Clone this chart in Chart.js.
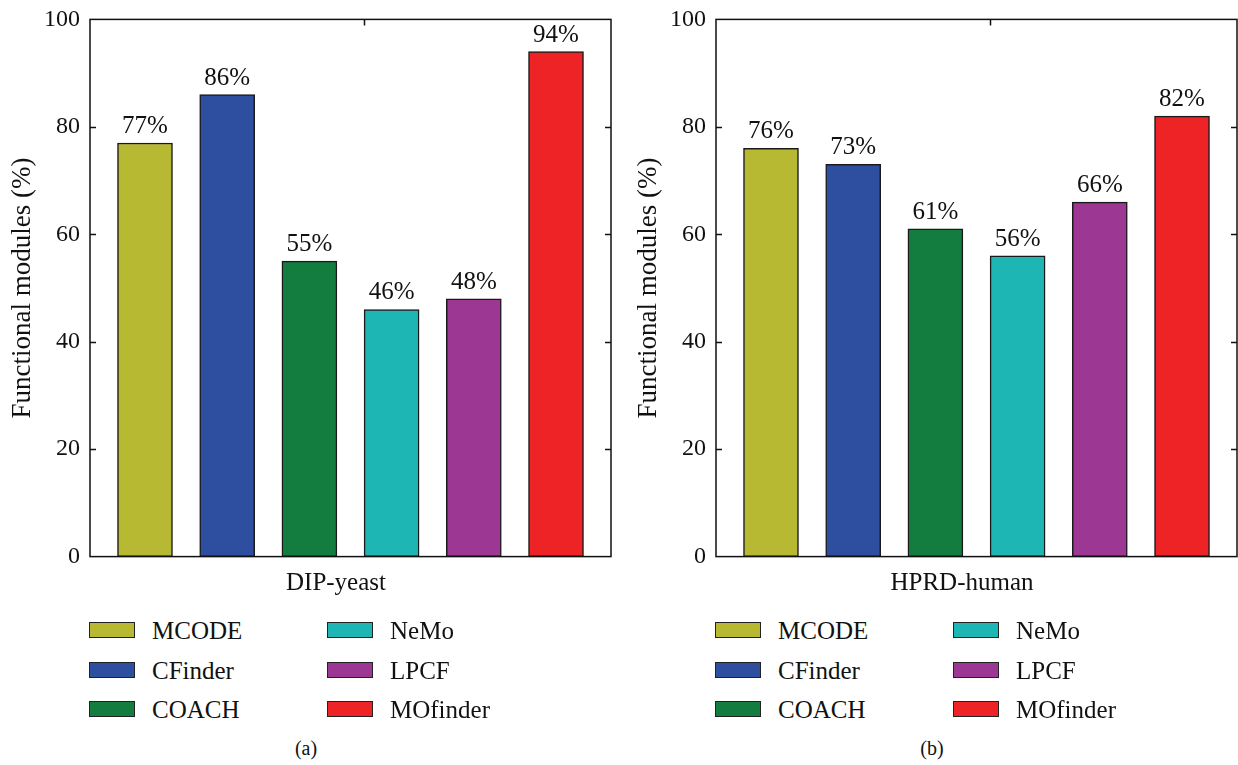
<!DOCTYPE html>
<html>
<head>
<meta charset="utf-8">
<script src="https://cdn.jsdelivr.net/npm/chart.js@4/dist/chart.umd.min.js"></script>
<style>
  html, body { margin: 0; padding: 0; background: #fff; }
  body { width: 1238px; height: 765px; position: relative; overflow: hidden;
         font-family: "Liberation Serif", "DejaVu Serif", serif; color: #111; }
  .panel { position: absolute; top: -5px; }
  .txt { position: absolute; white-space: nowrap; transform: translate(-50%, -50%); }
  .leg-box { position: absolute; width: 44px; height: 14px; border: 1.5px solid #222; }
  .leg-txt { position: absolute; font-size: 25px; line-height: 1; transform: translateY(-50%); white-space: nowrap; }
</style>
</head>
<body>
<div id="pa" class="panel" style="left:0px"><canvas id="ca" width="620" height="586"></canvas></div>
<div id="pb" class="panel" style="left:626px"><canvas id="cb" width="612" height="586"></canvas></div>
<script>
// Methods compared and their bar colours
const categories = ['MCODE', 'CFinder', 'COACH', 'NeMo', 'LPCF', 'MOfinder'];
const barColors = ['#b8b933', '#2e4fa0', '#137c3f', '#1db6b4', '#9c3893', '#ee2325'];

// Share of functional modules (%) per network
const dipYeast = [77, 86, 55, 46, 48, 94];
const hprdHuman = [76, 73, 61, 56, 66, 82];

// Axis ticks
const yTickValues = [0, 20, 40, 60, 80, 100];
const innerTickValues = [20, 40, 60, 80];

const panels = [
  { canvas: 'ca', left: 0, values: dipYeast, network: 'DIP-yeast', tag: '(a)', padRight: 9 },
  { canvas: 'cb', left: 626, values: hprdHuman, network: 'HPRD-human', tag: '(b)', padRight: 1 }
];

const FONT = '"Liberation Serif", "DejaVu Serif", serif';

// Box frame, inward ticks and value labels
const framePlugin = {
  id: 'frame',
  afterDatasetsDraw(chart) {
    const { ctx } = chart;
    const vals = chart.data.datasets[0].data;
    ctx.save();
    ctx.fillStyle = '#111';
    ctx.font = '25px ' + FONT;
    ctx.textAlign = 'center';
    ctx.textBaseline = 'alphabetic';
    chart.getDatasetMeta(0).data.forEach((bar, i) => {
      ctx.fillText(vals[i].y + '%', bar.x, bar.y - 10);
    });
    ctx.restore();
  },
  afterDraw(chart) {
    const { ctx, chartArea: a, scales: { x, y } } = chart;
    ctx.save();
    ctx.strokeStyle = '#111';
    ctx.lineWidth = 1.5;
    ctx.strokeRect(a.left, a.top, a.right - a.left, a.bottom - a.top);
    ctx.beginPath();
    innerTickValues.forEach(v => {
      const py = Math.round(y.getPixelForValue(v)) + 0.5;
      ctx.moveTo(a.left, py); ctx.lineTo(a.left + 6, py);
      ctx.moveTo(a.right, py); ctx.lineTo(a.right - 6, py);
    });
    const tx = Math.round(x.getPixelForValue(3.66)) + 0.5;
    ctx.moveTo(tx, a.top); ctx.lineTo(tx, a.top + 6);
    ctx.stroke();
    ctx.restore();
  }
};

panels.forEach(p => {
  const points = p.values.map((v, i) => ({ x: i + 1, y: v }));
  new Chart(document.getElementById(p.canvas), {
    type: 'bar',
    data: {
      datasets: [{
        data: points,
        backgroundColor: barColors,
        borderColor: '#1a1a1a',
        borderWidth: 1.5,
        borderSkipped: false,
        barThickness: 55
      }]
    },
    plugins: [framePlugin],
    options: {
      responsive: false,
      animation: false,
      events: [],
      layout: { padding: { top: 14, right: p.padRight, bottom: 4, left: 0 } },
      plugins: { legend: { display: false }, tooltip: { enabled: false } },
      scales: {
        x: {
          type: 'linear',
          display: false,
          offset: false,
          min: 0.331,
          max: 6.669
        },
        y: {
          min: 0,
          max: 100,
          afterBuildTicks: s => { s.ticks = yTickValues.map(v => ({ value: v })); },
          afterFit: s => { s.width = 90; },
          grid: { display: false, drawTicks: false },
          border: { display: false },
          ticks: { color: '#111', padding: 10, font: { family: FONT, size: 24 } },
          title: {
            display: true,
            text: 'Functional modules (%)',
            color: '#111',
            font: { family: FONT, size: 27 },
            padding: { top: 7, bottom: 0 }
          }
        }
      }
    }
  });

  // Network name under the plot, panel tag, and legend
  const plotLeft = p.left + 90;
  const addText = (txt, cx, cy, size) => {
    const d = document.createElement('div');
    d.className = 'txt';
    d.textContent = txt;
    d.style.left = cx + 'px';
    d.style.top = cy + 'px';
    d.style.fontSize = size + 'px';
    document.body.appendChild(d);
  };
  addText(p.network, plotLeft + 246, 582, 25);
  addText(p.tag, plotLeft + 216, 748, 20);

  const rowY = [630, 670, 709];
  categories.forEach((name, i) => {
    const col = Math.floor(i / 3), row = i % 3;
    const bx = plotLeft - 1 + col * 238;
    const box = document.createElement('div');
    box.className = 'leg-box';
    box.style.left = bx + 'px';
    box.style.top = (rowY[row] - 8) + 'px';
    box.style.background = barColors[i];
    document.body.appendChild(box);
    const t = document.createElement('div');
    t.className = 'leg-txt';
    t.textContent = name;
    t.style.left = (bx + 63) + 'px';
    t.style.top = rowY[row] + 'px';
    document.body.appendChild(t);
  });
});
</script>
</body>
</html>
